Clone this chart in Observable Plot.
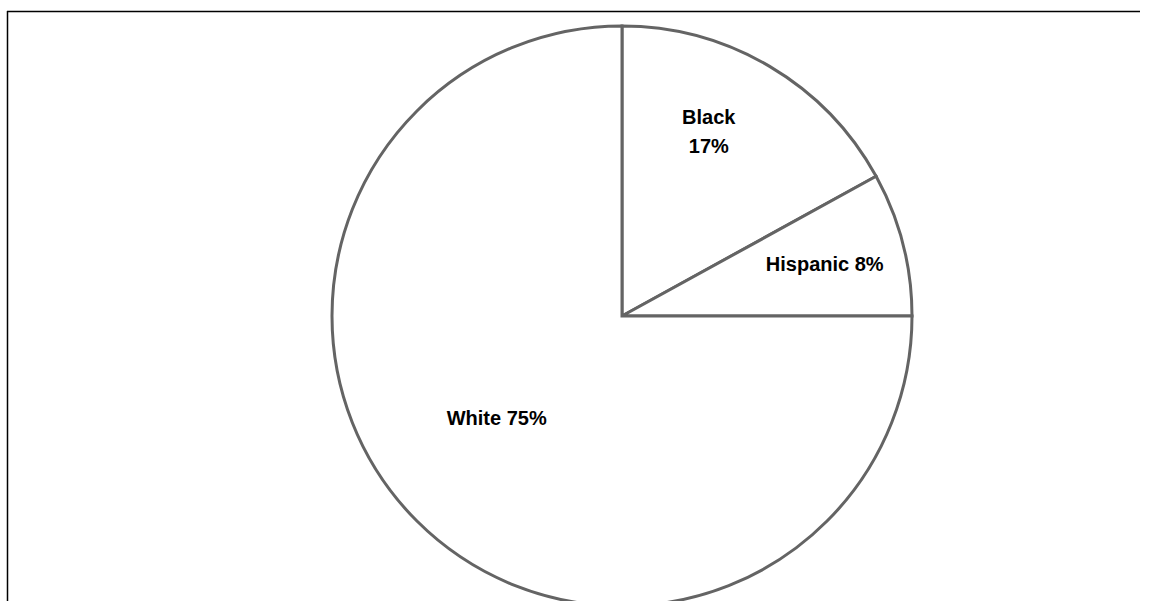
<!DOCTYPE html>
<html>
<head>
<meta charset="utf-8">
<script src="https://cdn.jsdelivr.net/npm/d3@7"></script>
<script src="https://cdn.jsdelivr.net/npm/@observablehq/plot@0.6"></script>
<style>
  html, body { margin: 0; padding: 0; background: #fff; overflow: hidden; }
  #chart svg { display: block; }
</style>
</head>
<body>
<div id="chart"></div>
<script>
// Data
const categories = ["Black", "Hispanic", "White"];
const shares = [17, 8, 75];
const labels = ["Black\n17%", "Hispanic 8%", "White 75%"];

const pie = d3.pie().sort(null).value(d => d.value)(
  categories.map((c, i) => ({category: c, value: shares[i], label: labels[i]}))
);
const slices = pie.map(p => ({...p.data, startAngle: p.startAngle, endAngle: p.endAngle, mid: (p.startAngle + p.endAngle) / 2}));

const labelRadius = {Black: 0.72, Hispanic: 0.72, White: 0.55};
const labelPts = slices.map(s => ({
  ...s,
  lx: labelRadius[s.category] * Math.sin(s.mid),
  ly: labelRadius[s.category] * Math.cos(s.mid)
}));

function pieMark(index, scales) {
  const cx = scales.x(0), cy = scales.y(0);
  const r = scales.x(1) - scales.x(0);
  const arc = d3.arc().innerRadius(0).outerRadius(r);
  const g = d3.create("svg:g").attr("transform", `translate(${cx},${cy})`);
  g.selectAll("path").data(slices).join("path")
    .attr("d", d => arc(d))
    .attr("fill", "#ffffff")
    .attr("stroke", "#646464")
    .attr("stroke-width", 3)
    .attr("stroke-linejoin", "miter");
  return g.node();
}

function borderMark() {
  const g = d3.create("svg:g");
  g.append("line").attr("x1", 7).attr("x2", 1140).attr("y1", 11.5).attr("y2", 11.5)
    .attr("stroke", "#000").attr("stroke-width", 1.5);
  g.append("line").attr("x1", 7.5).attr("x2", 7.5).attr("y1", 11).attr("y2", 601)
    .attr("stroke", "#000").attr("stroke-width", 1.5);
  return g.node();
}

const font = "'Liberation Sans', Arial, sans-serif";
const textOpts = {fontSize: 20, fontWeight: "bold", fill: "#000", fontFamily: font, lineHeight: 1.45, textAnchor: "middle", lineAnchor: "middle"};

const chart = Plot.plot({
  width: 1149,
  height: 601,
  margin: 0,
  x: {domain: [-1, 1], range: [332, 912], axis: null},
  y: {domain: [-1, 1], range: [606, 26], axis: null},
  style: {fontFamily: font, background: "#fff", overflow: "hidden"},
  marks: [
    borderMark,
    pieMark,
    Plot.text(labelPts.filter(d => d.category === "Black"), {x: "lx", y: "ly", text: "label", dx: -20, dy: -8, ...textOpts}),
    Plot.text(labelPts.filter(d => d.category === "Hispanic"), {x: "lx", y: "ly", text: "label", dx: 0, dy: -3, ...textOpts}),
    Plot.text(labelPts.filter(d => d.category === "White"), {x: "lx", y: "ly", text: "label", dx: -13, dy: -14, ...textOpts})
  ]
});
document.getElementById("chart").appendChild(chart);
</script>
</body>
</html>
